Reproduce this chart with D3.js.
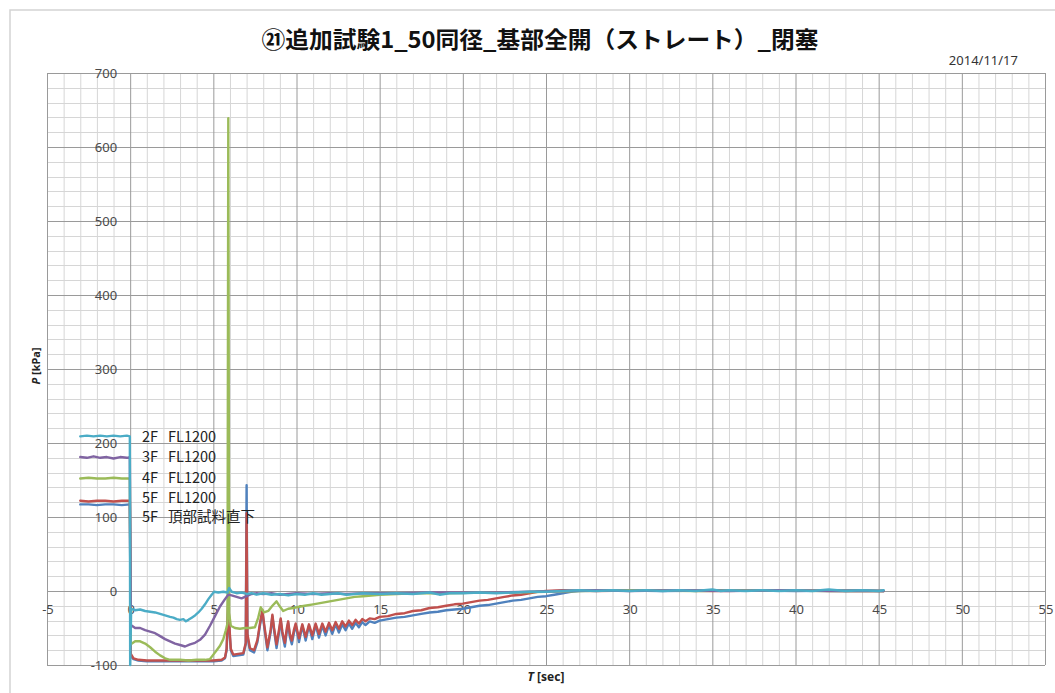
<!DOCTYPE html>
<html><head><meta charset="utf-8">
<script src="https://cdn.jsdelivr.net/npm/d3@7"></script>
<style>
html,body{margin:0;padding:0;background:#fff;}
svg{display:block;}
</style></head>
<body>
<svg id="chart" width="1055" height="693"></svg>
<script>
const titleText = "㉑追加試験1_50同径_基部全開（ストレート）_閉塞";
const dateText = "2014/11/17";
const xTickValues = [-5,0,5,10,15,20,25,30,35,40,45,50,55];
const yTickValues = [-100,0,100,200,300,400,500,600,700];
const seriesFloors = ["2F","3F","4F","5F","5F"];
const seriesPoints = ["FL1200","FL1200","FL1200","FL1200","頂部試料直下"];

const s2F = [[-3.0,209],[-2.6,210],[-2.2,209],[-1.8,210],[-1.4,209],[-1.0,210],[-0.6,209],[-0.2,210],[-0.02,209],
[0.0,-100],[0.06,-24],[0.3,-26],[0.6,-25],[0.9,-27],[1.2,-28],[1.5,-29],[1.8,-31],[2.1,-33],[2.4,-35],[2.6,-36],[2.8,-38],[3.0,-39],[3.2,-38],[3.35,-41],[3.5,-39],[3.7,-36],[3.9,-33],[4.1,-29],[4.3,-24],[4.5,-18],[4.7,-11],[4.9,-5],[5.05,-1],[5.3,-2],[5.6,-1],[5.85,-2],[5.95,4],[6.1,-1],[6.4,-3],[6.7,-2],[7.0,-4],[7.3,-3],[7.6,-5],[8.0,-3],[8.5,-5],[9.0,-4],[9.5,-6],[10,-4],[10.5,-5],[11,-3],[11.5,-5],[12,-4],[12.5,-3],[13,-5],[13.5,-4],[14,-3],[15,-4],[16,-3],[17,-4],[18,-2],[18.6,-5],[19.2,-3],[20,-3],[21,-2],[22,-3],[23,-2],[24,-1],[25,-1],[26,0],[27,1],[28,0],[29,1],[30,0],[31,1],[32,0],[33,1],[34,0],[35,2],[35.5,0],[36,1],[37,0],[38,1],[39,0],[40,1],[41,0],[42,2],[43,0],[44,1],[45,0],[45.3,1]];

const s3F = [[-3.0,181],[-2.6,180],[-2.2,182],[-1.8,180],[-1.4,181],[-1.0,179],[-0.6,181],[-0.2,180],[-0.02,181],
[0.04,-46],[0.3,-50],[0.6,-50],[0.9,-53],[1.2,-55],[1.5,-57],[1.8,-61],[2.1,-65],[2.4,-68],[2.7,-71],[3.0,-73],[3.3,-75],[3.6,-72],[3.9,-70],[4.2,-66],[4.5,-59],[4.8,-47],[5.1,-34],[5.4,-21],[5.7,-11],[5.9,-5],[6.1,-6],[6.4,-8],[6.7,-10],[7.0,-7],[7.3,-4],[7.6,-3],[8.0,-4],[8.5,-3],[9,-5],[10,-3],[11,-4],[12,-3],[13,-4],[14,-3],[15,-3],[16,-3],[18,-2],[20,-2],[22,-2],[24,-1],[26,0],[28,1],[30,0],[33,1],[36,0],[39,1],[42,0],[45.3,0]];

const s4F = [[-3.0,152],[-2.5,153],[-2.0,152],[-1.5,152],[-1.0,153],[-0.5,152],[-0.02,152],
[0.04,-72],[0.3,-68],[0.6,-68],[0.9,-71],[1.2,-76],[1.5,-82],[1.8,-87],[2.1,-91],[2.4,-93],[3.0,-93],[3.5,-94],[4.0,-93],[4.5,-93],[4.8,-92],[5.0,-86],[5.2,-80],[5.4,-74],[5.6,-65],[5.75,-53],[5.85,-44],[5.9,639],[5.95,-30],[6.05,-47],[6.3,-50],[6.6,-51],[6.9,-50],[7.2,-50],[7.5,-49],[7.7,-36],[7.85,-22],[8.05,-29],[8.3,-27],[8.55,-20],[8.8,-14],[9.0,-21],[9.2,-27],[9.5,-24],[9.8,-23],[10,-22],[10.5,-20],[11,-18],[11.5,-16],[12,-14],[12.5,-12],[13,-10],[13.5,-8],[14,-7],[14.5,-6],[15,-5],[16,-4],[17,-3],[19,-3],[21,-2],[23,-2],[25,-1],[27,0],[30,1],[34,0],[38,1],[42,0],[45.3,0]];

const s5F = [[-3.0,122],[-2.5,121],[-2.0,122],[-1.5,122],[-1.0,121],[-0.5,122],[-0.02,122],
[0.04,-85],[0.2,-91],[0.5,-93],[1.0,-94],[2.0,-94],[3.0,-94],[4.0,-94],[5.0,-94],[5.5,-93],[5.7,-90],[5.8,-78],[5.85,-45],[5.9,-8],[5.95,-42],[6.05,-78],[6.2,-86],[6.5,-85],[6.8,-84],[6.95,-70],[7.0,105],[7.05,-58],[7.2,-77],[7.45,-80],[7.65,-66],[7.8,-44],[7.95,-26],[8.05,-44],[8.25,-76],[8.45,-52],[8.55,-32],[8.65,-50],[8.8,-72],[8.95,-52],[9.05,-37],[9.15,-55],[9.3,-70],[9.42,-50],[9.5,-41],[9.6,-58],[9.72,-67],[9.85,-52],[9.95,-44],[10.15,-64],[10.35,-45],[10.55,-62],[10.75,-45],[10.95,-60],[11.15,-44],[11.35,-58],[11.55,-44],[11.75,-55],[11.95,-43],[12.15,-53],[12.35,-42],[12.55,-51],[12.75,-41],[12.95,-48],[13.15,-40],[13.35,-46],[13.55,-39],[13.75,-44],[13.95,-38],[14.15,-41],[14.4,-37],[14.7,-38],[15,-35],[15.5,-34],[16,-31],[16.5,-30],[17,-27],[17.5,-26],[18,-23],[18.5,-22],[19,-20],[19.5,-18],[20,-17],[20.5,-15],[21,-13],[21.5,-12],[22,-10],[22.5,-8],[23,-6],[23.5,-5],[24,-3],[24.5,-1],[25,0],[26,1],[28,0],[31,1],[35,0],[39,1],[43,0],[45.3,0]];

const s5FTop = [[-3.0,117],[-2.5,117],[-2.0,116],[-1.5,117],[-1.0,117],[-0.5,116],[-0.02,117],
[0.04,-88],[0.2,-92],[0.5,-94],[1.0,-95],[2.0,-95],[3.0,-95],[4.0,-95],[5.0,-95],[5.5,-94],[5.7,-91],[5.8,-80],[5.85,-50],[5.9,-14],[5.95,-48],[6.05,-80],[6.2,-88],[6.5,-87],[6.8,-86],[6.95,-72],[7.0,143],[7.05,-62],[7.2,-80],[7.45,-83],[7.65,-69],[7.8,-47],[7.95,-28],[8.05,-47],[8.25,-80],[8.45,-55],[8.55,-34],[8.65,-53],[8.8,-77],[8.95,-56],[9.05,-39],[9.15,-58],[9.3,-75],[9.42,-54],[9.5,-43],[9.6,-62],[9.72,-72],[9.85,-56],[9.95,-46],[10.15,-69],[10.35,-47],[10.55,-67],[10.75,-47],[10.95,-65],[11.15,-46],[11.35,-63],[11.55,-47],[11.75,-60],[11.95,-46],[12.15,-58],[12.35,-45],[12.55,-56],[12.75,-45],[12.95,-53],[13.15,-44],[13.35,-51],[13.55,-43],[13.75,-49],[13.95,-42],[14.15,-46],[14.4,-41],[14.7,-43],[15,-40],[15.5,-38],[16,-36],[16.5,-35],[17,-33],[17.5,-31],[18,-29],[18.5,-28],[19,-26],[19.5,-25],[20,-24],[20.5,-22],[21,-20],[21.5,-19],[22,-17],[22.5,-15],[23,-13],[23.5,-12],[24,-10],[24.5,-8],[25,-7],[25.5,-5],[26,-3],[26.5,-1],[27,0],[29,1],[32,0],[36,1],[40,0],[44,1],[45.3,0]];

const seriesData = [s2F, s3F, s4F, s5F, s5FTop];
const seriesColors = ["#4BACC6","#8064A2","#9BBB59","#C0504D","#4F81BD"];
const drawOrder = [4,3,2,1,0];

const svg = d3.select("#chart");
const x = d3.scaleLinear().domain([-5,55]).range([47,1045]);
const y = d3.scaleLinear().domain([-100,700]).range([665,73]);

// outer chart border
svg.append("rect").attr("x",10).attr("y",10).attr("width",1100).attr("height",800)
  .attr("fill","none").attr("stroke","#d4d4d4").attr("stroke-width",1.5);

// grid
const g = svg.append("g");
const minorX = d3.range(-5,56,1).filter(v => v % 5 !== 0);
const minorY = d3.range(-100,701,20).filter(v => v % 100 !== 0);
g.selectAll(".mx").data(minorX).join("line")
  .attr("x1",d=>x(d)+0.5).attr("x2",d=>x(d)+0.5).attr("y1",y(700)).attr("y2",y(-100))
  .attr("stroke","#d6d6d6").attr("stroke-width",1);
g.selectAll(".my").data(minorY).join("line")
  .attr("y1",d=>Math.round(y(d))+0.5).attr("y2",d=>Math.round(y(d))+0.5).attr("x1",x(-5)).attr("x2",x(55))
  .attr("stroke","#d6d6d6").attr("stroke-width",1);
g.selectAll(".Mx").data(xTickValues).join("line")
  .attr("x1",d=>x(d)+0.5).attr("x2",d=>x(d)+0.5).attr("y1",y(700)).attr("y2",y(-100))
  .attr("stroke","#9a9a9a").attr("stroke-width",1);
g.selectAll(".My").data(yTickValues).join("line")
  .attr("y1",d=>Math.round(y(d))+0.5).attr("y2",d=>Math.round(y(d))+0.5).attr("x1",x(-5)).attr("x2",x(55))
  .attr("stroke","#9a9a9a").attr("stroke-width",1);

// tick labels
const tickFont = "'Noto Sans', 'Open Sans', sans-serif";
svg.append("g").selectAll("text").data(yTickValues).join("text")
  .attr("x", x(0)-13).attr("y", d=>y(d)).attr("dy","0.35em")
  .attr("text-anchor","end").attr("font-family",tickFont).attr("font-size",13)
  .attr("fill","#4a4a4a").text(d=>d);
svg.append("g").selectAll("text").data(xTickValues).join("text")
  .attr("x", d=>x(d)+1).attr("y", y(0)+23)
  .attr("text-anchor","middle").attr("font-family",tickFont).attr("font-size",13)
  .attr("fill","#4a4a4a").text(d=>d);

// series
const line = d3.line().x(d=>x(d[0])).y(d=>y(d[1]));
const sg = svg.append("g");
drawOrder.forEach(i => {
  sg.append("path").datum(seriesData[i]).attr("d",line)
    .attr("fill","none").attr("stroke",seriesColors[i]).attr("stroke-width",2.4)
    .attr("stroke-linejoin","round").attr("stroke-linecap","round");
});

// legend labels
const legendY = [442,462,483,503,522];
const lg = svg.append("g").attr("font-family","'Noto Sans CJK JP', sans-serif")
  .attr("font-size",14.5).attr("fill","#222");
seriesFloors.forEach((f,i) => {
  lg.append("text").attr("x",142).attr("y",legendY[i]).text(f);
  lg.append("text").attr("x",168).attr("y",legendY[i]).text(seriesPoints[i]);
});

// title
svg.append("text").attr("x",540).attr("y",48).attr("text-anchor","middle")
  .attr("font-family","'Noto Sans CJK JP', sans-serif").attr("font-weight","bold")
  .attr("font-size",23).attr("fill","#111")
  .attr("textLength",557).attr("lengthAdjust","spacingAndGlyphs").text(titleText);

// date
svg.append("text").attr("x",1018).attr("y",65).attr("text-anchor","end")
  .attr("font-family",tickFont).attr("font-size",13).attr("fill","#333").text(dateText);

// axis titles
const yt = svg.append("text").attr("transform","translate(40,366) rotate(-90)")
  .attr("text-anchor","middle").attr("font-family",tickFont).attr("font-weight","bold")
  .attr("font-size",11).attr("fill","#222");
yt.append("tspan").attr("font-style","italic").text("P");
yt.append("tspan").text(" [kPa]");
const xt = svg.append("text").attr("x",546).attr("y",681)
  .attr("text-anchor","middle").attr("font-family",tickFont).attr("font-weight","bold")
  .attr("font-size",12).attr("fill","#222");
xt.append("tspan").attr("font-style","italic").text("T");
xt.append("tspan").text(" [sec]");
</script>
</body></html>
